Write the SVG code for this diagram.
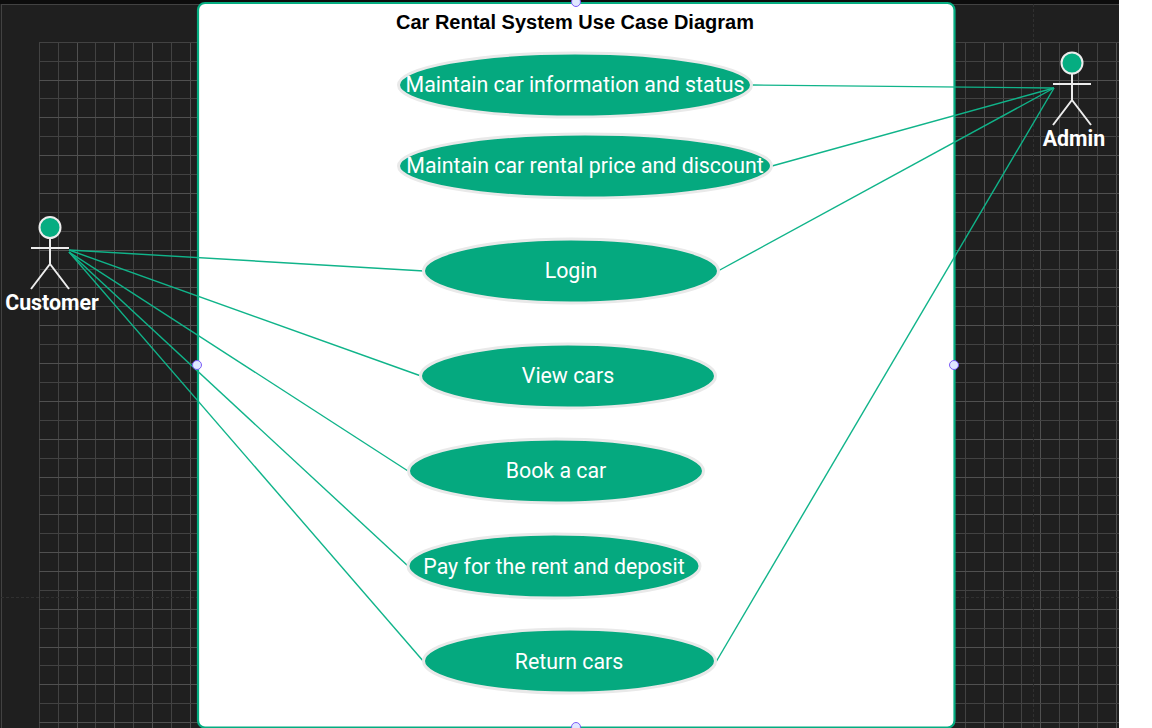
<svg xmlns="http://www.w3.org/2000/svg" width="1152" height="728" viewBox="0 0 1152 728">
<style>
.g1{stroke:#424242;stroke-width:1;fill:none;shape-rendering:crispEdges}
.g2{stroke:#505050;stroke-width:1;fill:none;shape-rendering:crispEdges}
.dash{stroke:#303030;stroke-width:1;stroke-dasharray:3 2;fill:none;shape-rendering:crispEdges}
.conn{stroke:#10b48a;stroke-width:1.4;fill:none}
.uc ellipse{fill:#05a97f;stroke:#e9e9e9;stroke-width:3}
.uc text{font-family:Roboto,"Liberation Sans",sans-serif;font-size:21.33px;fill:#fff;text-anchor:middle}
.actor circle{fill:#05ad81;stroke:#ececec;stroke-width:2}
.actor path{fill:none;stroke:#ececec;stroke-width:2}
.actor text{font-family:Roboto,"Liberation Sans",sans-serif;font-size:21.33px;font-weight:700;fill:#fff;text-anchor:middle}
.port{fill:#e0e7ff;stroke:#7c5cf8;stroke-width:1}
</style>
<rect width="1152" height="728" fill="#fff"/>
<rect width="1119" height="728" fill="#1f1f1f"/>
<rect width="1119" height="4" fill="#0c0c0c"/>
<g id="grid">
<path class="g1" d="M1.5 4V728M1 4.500H1119"/>
<path class="g1" d="M39.500 42V728M58.500 42V728M95.500 42V728M133.500 42V728M171.500 42V728M965.500 42V728M1021.500 42V728M1059.500 42V728M1097.500 42V728"/>
<path class="g2" d="M77.500 42V728M114.500 42V728M152.500 42V728M190.500 42V728M984.500 42V728M1003.500 42V728M1040.500 42V728M1078.500 42V728M1116.500 42V728"/>
<path class="g1" d="M39 42.500H1119M39 61.500H1119M39 98.500H1119M39 136.500H1119M39 174.500H1119M39 212.500H1119M39 231.500H1119M39 269.500H1119M39 306.500H1119M39 344.500H1119M39 382.500H1119M39 420.500H1119M39 458.500H1119M39 495.500H1119M39 533.500H1119M39 590.500H1119M39 628.500H1119M39 665.500H1119M39 703.500H1119"/>
<path class="g2" d="M39 80.500H1119M39 117.500H1119M39 155.500H1119M39 193.500H1119M39 250.500H1119M39 287.500H1119M39 325.500H1119M39 363.500H1119M39 401.500H1119M39 439.500H1119M39 477.500H1119M39 514.500H1119M39 552.500H1119M39 571.500H1119M39 609.500H1119M39 647.500H1119M39 684.500H1119M39 722.500H1119"/>
<path class="dash" d="M1 597.500H1119M1033.500 4V728"/>
</g>
<g id="system">
<rect x="198" y="3" width="756.500" height="724.500" rx="7" fill="#fff" stroke="#05ad81" stroke-width="2.200"/>
<text x="575" y="29" font-family="Liberation Sans,Arial,sans-serif" font-size="20px" font-weight="700" fill="#000" text-anchor="middle">Car Rental System Use Case Diagram</text>
</g>
<g id="connectors">
<path class="conn" d="M69 250L424 271"/>
<path class="conn" d="M69 250L421 376"/>
<path class="conn" d="M69 252L408 471"/>
<path class="conn" d="M69 252L408 566"/>
<path class="conn" d="M69 252L424 662"/>
<path class="conn" d="M752 85L1054 88"/>
<path class="conn" d="M772 166L1054 88"/>
<path class="conn" d="M718 271L1054 88"/>
<path class="conn" d="M716 662L1054 88"/>
</g>
<g id="uc1" class="uc"><ellipse cx="575" cy="85" rx="176.500" ry="32"/><text x="575" y="92">Maintain car information and status</text></g>
<g id="uc2" class="uc"><ellipse cx="585" cy="166" rx="186.500" ry="32"/><text x="585" y="173">Maintain car rental price and discount</text></g>
<g id="uc3" class="uc"><ellipse cx="571" cy="271" rx="147.500" ry="32"/><text x="571" y="278">Login</text></g>
<g id="uc4" class="uc"><ellipse cx="568" cy="376" rx="147.500" ry="32"/><text x="568" y="383">View cars</text></g>
<g id="uc5" class="uc"><ellipse cx="556" cy="471" rx="147.500" ry="32"/><text x="556" y="478">Book a car</text></g>
<g id="uc6" class="uc"><ellipse cx="554" cy="566" rx="146" ry="32"/><text x="554" y="574">Pay for the rent and deposit</text></g>
<g id="uc7" class="uc"><ellipse cx="569.500" cy="661" rx="146" ry="32"/><text x="569" y="669">Return cars</text></g>
<g id="customer" class="actor"><circle cx="50" cy="227.500" r="10.500"/><path d="M50 238V264M31 248H69M50 264L31 289M50 264L69 289"/><text x="52" y="310">Customer</text></g>
<g id="admin" class="actor"><circle cx="1072" cy="63" r="10.500"/><path d="M1072 74V100M1053 84H1091M1072 100L1053 125M1072 100L1091 125"/><text x="1074" y="146">Admin</text></g>
<g id="ports">
<circle class="port" cx="576" cy="2" r="4.500"/>
<circle class="port" cx="197" cy="365" r="4.500"/>
<circle class="port" cx="954" cy="365" r="4.500"/>
<circle class="port" cx="576" cy="727" r="4.500"/>
</g>
</svg>
